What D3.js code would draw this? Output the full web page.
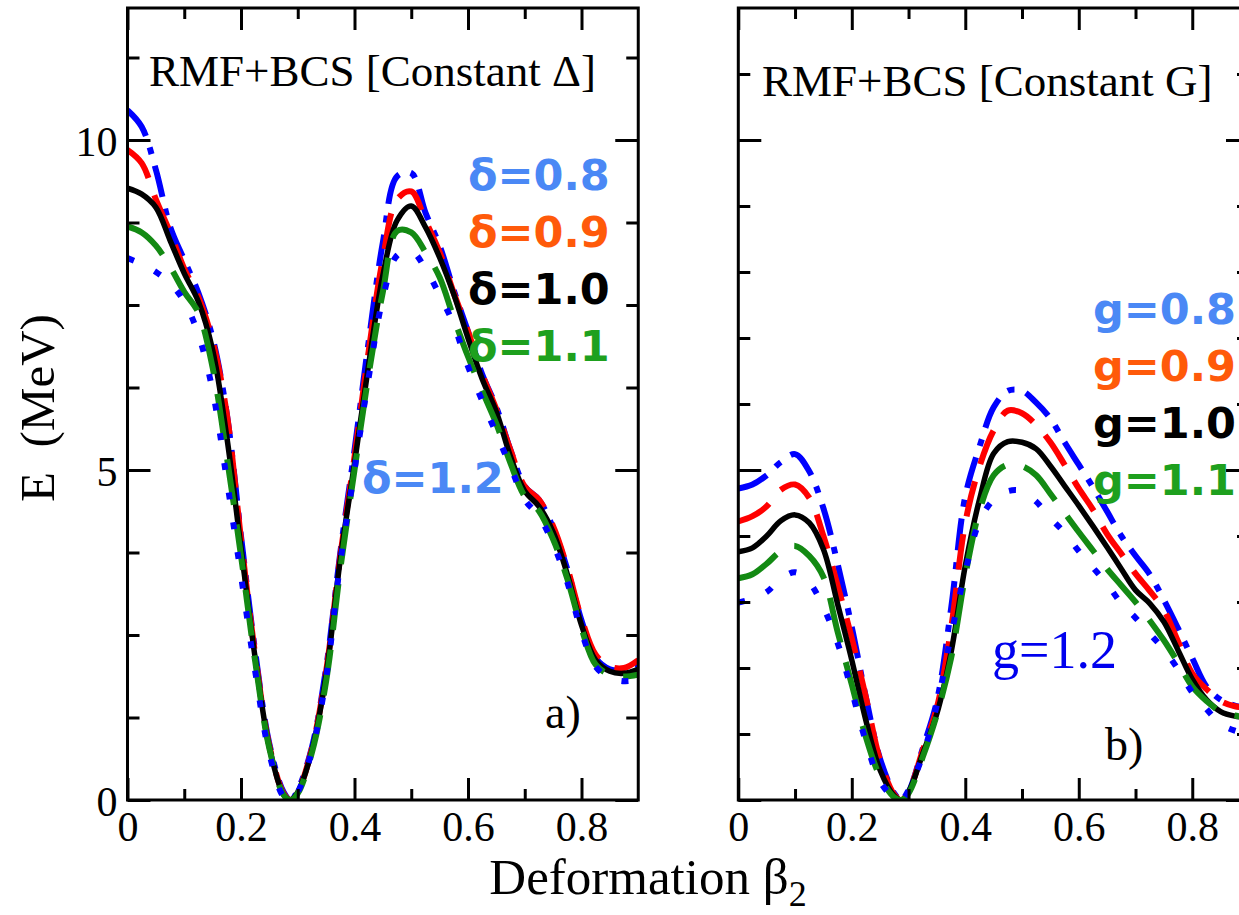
<!DOCTYPE html>
<html><head><meta charset="utf-8">
<script src="https://cdn.jsdelivr.net/npm/d3@7"></script>
<style>body{margin:0;background:#fff}svg{display:block}</style>
</head><body><svg id="c" width="1239" height="915"></svg>
<script>
// deformation grid (beta_2)
const beta = [0,0.025,0.05,0.075,0.1,0.125,0.15,0.175,0.2,0.225,0.25,0.275,0.2875,0.3,0.325,0.35,0.375,0.4,0.425,0.45,0.475,0.5,0.525,0.55,0.575,0.6,0.625,0.65,0.675,0.7,0.725,0.75,0.775,0.8,0.825,0.85,0.875,0.9];

// panel a) RMF+BCS constant Delta
const aDelta08 = [10.45,10.2,9.55,8.69,8.18,7.68,7.0,5.85,4.0,2.25,0.85,0.12,0.0,0.15,0.8,2.0,3.75,5.3,6.95,8.45,9.45,9.5,8.9,8.4,7.72,7.1,6.45,5.95,5.3,4.75,4.55,4.12,3.5,2.72,2.15,1.98,1.97,2.05];
const aDelta09 = [9.85,9.65,9.1,8.6,8.05,7.62,6.95,5.85,3.95,2.2,0.82,0.1,0.0,0.12,0.78,1.95,3.7,5.2,6.8,8.2,9.1,9.22,8.78,8.3,7.68,7.1,6.45,5.92,5.3,4.75,4.55,4.15,3.52,2.75,2.2,2.02,2.0,2.12];
const aDelta10 = [9.27,9.18,8.98,8.48,7.98,7.55,6.82,5.5,3.82,2.15,0.8,0.08,0.0,0.12,0.75,1.9,3.65,5.1,6.6,7.95,8.78,9.0,8.68,8.22,7.66,7.0,6.38,5.88,5.2,4.68,4.45,4.06,3.42,2.65,2.12,1.95,1.92,1.98];
const aDelta11 = [8.69,8.6,8.4,8.08,7.7,7.38,6.55,5.2,3.7,2.1,0.78,0.08,0.0,0.1,0.72,1.8,3.5,5.0,6.45,7.7,8.62,8.6,8.3,7.92,7.3,6.72,6.2,5.7,5.1,4.6,4.38,3.95,3.35,2.6,2.05,1.9,1.87,1.9];
const aDelta12 = [8.21,8.12,8.0,7.83,7.55,7.05,6.2,4.85,3.4,1.95,0.7,0.05,0.0,0.12,0.75,1.85,3.6,5.0,6.4,7.6,8.25,8.32,8.05,7.65,7.2,6.57,6.05,5.55,5.05,4.55,4.3,3.88,3.3,2.55,2.02,1.85,1.8,1.82];

// panel b) RMF+BCS constant G
const bG08 = [4.72,4.78,4.92,5.12,5.24,4.98,4.42,3.58,2.62,1.55,0.62,0.1,0.0,0.12,0.78,1.5,2.9,4.6,5.35,5.95,6.2,6.2,6.02,5.78,5.42,5.08,4.74,4.37,4.0,3.7,3.42,3.03,2.6,2.15,1.72,1.52,1.43,1.4];
const bG09 = [4.22,4.3,4.45,4.7,4.78,4.58,4.0,3.25,2.45,1.55,0.6,0.08,0.0,0.12,0.75,1.4,2.6,4.2,5.05,5.6,5.9,5.86,5.68,5.42,5.08,4.72,4.4,4.03,3.73,3.43,3.17,2.88,2.4,1.92,1.68,1.5,1.42,1.4];
const bG10 = [3.76,3.82,4.0,4.23,4.32,4.2,3.8,2.97,2.12,1.2,0.45,0.06,0.0,0.12,0.7,1.31,2.24,3.55,4.55,5.25,5.43,5.42,5.32,5.06,4.76,4.46,4.15,3.83,3.5,3.18,2.98,2.7,2.27,1.83,1.52,1.34,1.27,1.25];
const bG11 = [3.36,3.42,3.58,3.77,3.85,3.7,3.38,2.55,1.75,0.95,0.35,0.04,0.0,0.1,0.65,1.3,2.15,3.4,4.38,4.92,5.08,5.06,4.92,4.64,4.35,4.06,3.78,3.5,3.25,3.0,2.72,2.42,2.08,1.72,1.5,1.34,1.28,1.25];
const bG12 = [2.99,3.05,3.15,3.35,3.45,3.3,2.92,2.38,1.65,0.88,0.28,0.03,0.0,0.15,0.68,1.44,2.5,3.46,4.22,4.55,4.68,4.68,4.52,4.27,4.05,3.77,3.52,3.27,2.98,2.76,2.52,2.28,1.98,1.63,1.38,1.15,1.05,1.0];

const deltaLabels = ["δ=0.8","δ=0.9","δ=1.0","δ=1.1","δ=1.2"];
const gLabels = ["g=0.8","g=0.9","g=1.0","g=1.1","g=1.2"];
const xMajorTicks = [0,0.2,0.4,0.6,0.8];
const xMinorTicks = [0.1,0.3,0.5,0.7];
const yMajorTicks = [0,5,10];
const yMinorTicksA = [1.25,2.5,3.75,6.25,7.5,8.75,11.25];
const yMinorTicksB = [1,2,3,4,6,7,8,9,11];

const serif = "'Liberation Serif','Times New Roman',serif";
const sans = "'DejaVu Sans','Verdana',sans-serif";
const svg = d3.select("#c");
svg.append("rect").attr("width",1239).attr("height",915).attr("fill","#fff");

const y = d3.scaleLinear().domain([0,12]).range([800,8]);

const styles = [
  {color:"#0000ff", dash:"32 12 7 12"},   // 0.8 dash-dot
  {color:"#ff0000", dash:"36 18"},        // 0.9 dashed
  {color:"#000000", dash:null},           // 1.0 solid
  {color:"#138a13", dash:"46 20"},        // 1.1 dashed
  {color:"#0000ff", dash:"7 23"}          // 1.2 dotted
];
const drawOrder = [0,1,2,3,4];

const panels = [
  {key:"a", x:d3.scaleLinear().domain([0,0.9]).range([127.5,638.25]),
   data:[aDelta08,aDelta09,aDelta10,aDelta11,aDelta12], yMinor:yMinorTicksA, yLabels:true,
   title:"RMF+BCS [Constant Δ]", tx:149, ty:86, tag:"a)", tagX:545, tagY:728},
  {key:"b", x:d3.scaleLinear().domain([0,0.9]).range([738.3,1249]),
   data:[bG08,bG09,bG10,bG11,bG12], yMinor:yMinorTicksB, yLabels:false,
   title:"RMF+BCS [Constant G]", tx:762, ty:96, tag:"b)", tagX:1105, tagY:760}
];

panels.forEach(p => {
  const x = p.x;
  const x0 = x(0), x1 = x(0.9);
  const g = svg.append("g");
  g.append("clipPath").attr("id","clip"+p.key)
    .append("rect").attr("x",x0).attr("y",8).attr("width",x1-x0).attr("height",792);

  const line = d3.line().x((d,i)=>x(beta[i])).y(d=>y(d)).curve(d3.curveCatmullRom.alpha(0.5));
  const lg = g.append("g").attr("clip-path","url(#clip"+p.key+")");
  drawOrder.forEach(k => {
    lg.append("path").datum(p.data[k]).attr("d",line)
      .attr("fill","none").attr("stroke",styles[k].color).attr("stroke-width",k===2?5.5:6)
      .attr("stroke-dasharray",styles[k].dash).attr("stroke-linecap","butt");
  });

  const tickStyle = sel => { sel.select(".domain").remove(); sel.selectAll("line").attr("stroke","#000").attr("stroke-width",3); };
  const fmt = d => d===0 ? "0" : d3.format(".1f")(d);
  const bot = g.append("g").attr("transform",`translate(0,800)`)
    .call(d3.axisBottom(x).tickValues(xMajorTicks).tickSize(-22).tickFormat(fmt)).call(tickStyle);
  bot.selectAll("text").attr("y",41).attr("dy",null).attr("font-size",42).attr("font-family",serif).attr("fill","#000");
  g.append("g").attr("transform",`translate(0,800)`)
    .call(d3.axisBottom(x).tickValues(xMinorTicks).tickSize(-11).tickFormat("")).call(tickStyle);
  g.append("g").attr("transform",`translate(0,8)`)
    .call(d3.axisTop(x).tickValues(xMajorTicks).tickSize(-22).tickFormat("")).call(tickStyle);
  g.append("g").attr("transform",`translate(0,8)`)
    .call(d3.axisTop(x).tickValues(xMinorTicks).tickSize(-11).tickFormat("")).call(tickStyle);
  const left = g.append("g").attr("transform",`translate(${x0},0)`)
    .call(d3.axisLeft(y).tickValues(yMajorTicks).tickSize(-23).tickFormat(p.yLabels ? d3.format("d") : "")).call(tickStyle);
  left.selectAll("text").attr("x",-10).attr("dy",null).attr("y",15).attr("font-size",42).attr("font-family",serif).attr("fill","#000");
  g.append("g").attr("transform",`translate(${x0},0)`)
    .call(d3.axisLeft(y).tickValues(p.yMinor).tickSize(-12).tickFormat("")).call(tickStyle);
  g.append("g").attr("transform",`translate(${x1},0)`)
    .call(d3.axisRight(y).tickValues(yMajorTicks).tickSize(-23).tickFormat("")).call(tickStyle);
  g.append("g").attr("transform",`translate(${x1},0)`)
    .call(d3.axisRight(y).tickValues(p.yMinor).tickSize(-12).tickFormat("")).call(tickStyle);

  g.append("rect").attr("x",x0).attr("y",8).attr("width",x1-x0).attr("height",792)
    .attr("fill","none").attr("stroke","#000").attr("stroke-width",3);

  g.append("text").attr("x",p.tx).attr("y",p.ty).attr("font-family",serif).attr("font-size",45)
    .attr("fill","#000").text(p.title);
  g.append("text").attr("x",p.tagX).attr("y",p.tagY).attr("font-family",serif).attr("font-size",46)
    .attr("fill","#000").text(p.tag);
});

const labelColors = ["#4a88f5","#ff5a0a","#000000","#1ea01e"];
const la = svg.append("g").attr("font-family",sans).attr("font-weight","bold").attr("font-size",43);
deltaLabels.slice(0,4).forEach((t,i)=>{
  la.append("text").attr("x",468).attr("y",190+i*57).attr("fill",labelColors[i]).text(t);
});
la.append("text").attr("x",362).attr("y",493).attr("fill","#4a88f5").text(deltaLabels[4]);
const lb = svg.append("g").attr("font-family",sans).attr("font-weight","bold").attr("font-size",43);
gLabels.slice(0,4).forEach((t,i)=>{
  lb.append("text").attr("x",1093).attr("y",324+i*57).attr("fill",labelColors[i]).text(t);
});
svg.append("text").attr("x",992).attr("y",668).attr("font-family",serif).attr("font-size",54)
  .attr("fill","#0000ee").text(gLabels[4]);

svg.append("text").attr("transform","translate(54,408) rotate(-90)").attr("text-anchor","middle")
  .attr("font-family",serif).attr("font-size",49).attr("fill","#000")
  .style("white-space","pre").text("E  (MeV)");
const xt = svg.append("text").attr("x",648).attr("y",894).attr("text-anchor","middle")
  .attr("font-family",serif).attr("font-size",51).attr("fill","#000");
xt.append("tspan").text("Deformation β");
xt.append("tspan").attr("dy",12).attr("font-size",36).text("2");
</script></body></html>
